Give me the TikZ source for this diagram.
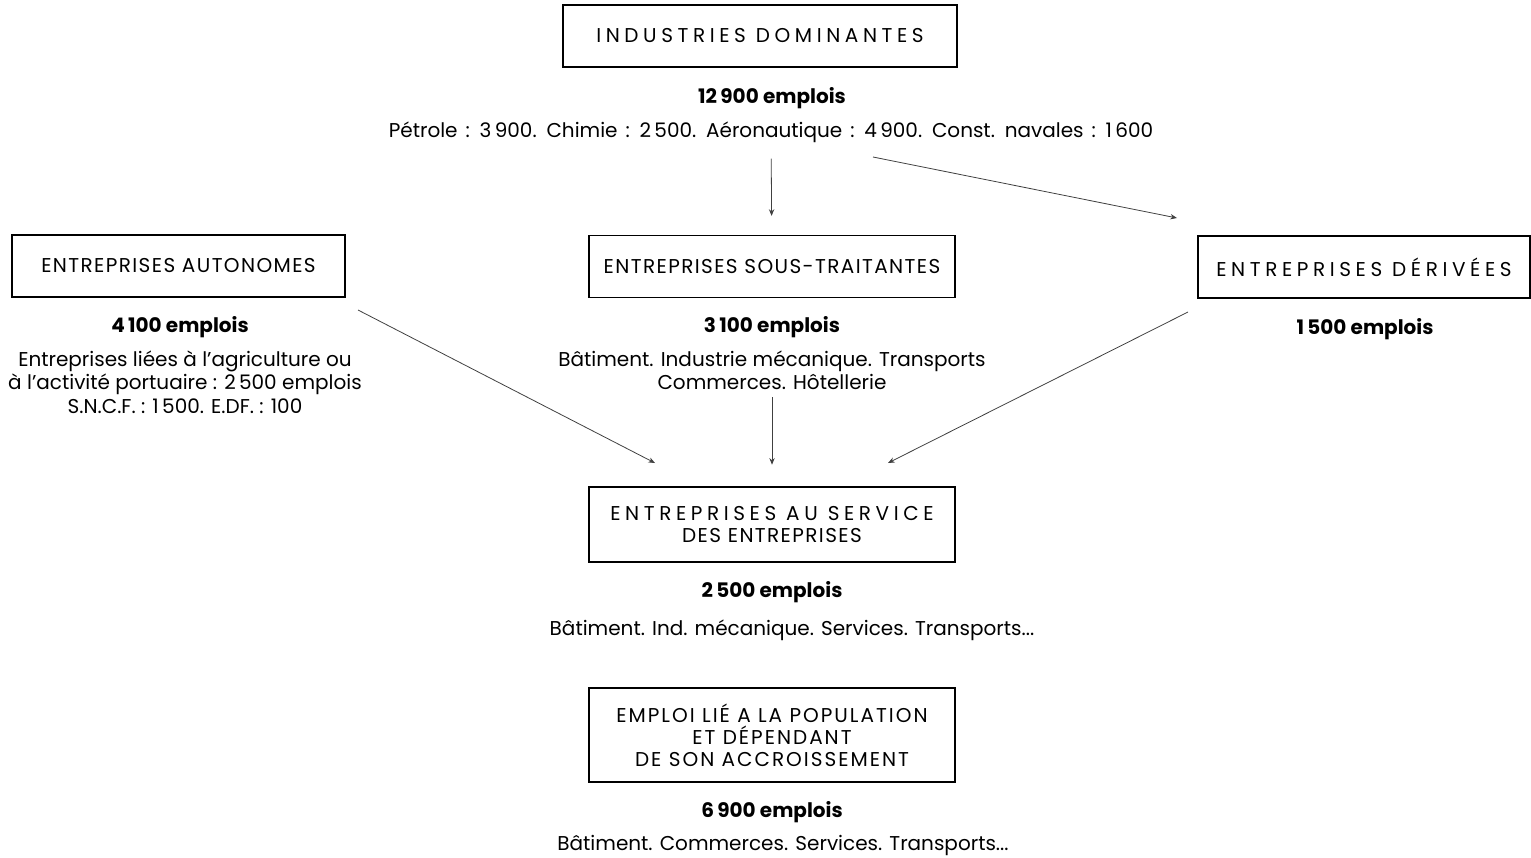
\documentclass[tikz,border=0pt]{standalone}
\usepackage{fontspec}
\setmainfont{Poppins}
\newfontfamily\capnorm{Poppins}[LetterSpace=7]
\newfontfamily\capmoy{Poppins}[LetterSpace=10]
\newfontfamily\espace{Poppins}[LetterSpace=23]
\newfontfamily\mots{Poppins}[WordSpace=1.5]
\usetikzlibrary{arrows.meta}

\begin{document}
\begin{tikzpicture}[x=0.75pt,y=0.75pt,yscale=-1,xscale=1,
  cadre/.style={draw, line width=1.4pt, inner sep=0pt, align=center, minimum height=46.5pt, font=\fontsize{15}{16.5}\selectfont\capnorm},
  cadresp/.style={cadre, font=\fontsize{15}{16.5}\selectfont\espace},
  effectif/.style={inner sep=1pt, font=\fontsize{15}{15}\selectfont\bfseries},
  detail/.style={inner sep=1pt, align=center, font=\fontsize{15}{17.6}\selectfont},
  fleche/.style={-{Stealth[length=5pt,width=4pt]}, line width=0.6pt, draw=black!75}]
\useasboundingbox (0,0) rectangle (1531,857);

% industries dominantes
\node[cadresp, minimum width=295.5pt] (dom) at (760,36) {INDUSTRIES DOMINANTES};
\node[effectif] (eff-dom) at (772,98) {12\,900 emplois};
\node[detail, font=\fontsize{15}{17.6}\selectfont\mots] (det-dom) at (771,132) {Pétrole : 3\,900. Chimie : 2\,500. Aéronautique : 4\,900. Const. navales : 1\,600};

% second rang
\node[cadre, minimum width=250pt] (auto) at (178.5,266) {ENTREPRISES AUTONOMES};
\node[effectif] (eff-auto) at (180,327) {4\,100 emplois};
\node[detail] (det-auto) at (185,382) {Entreprises liées à l'agriculture ou\\à l'activité portuaire : 2\,500 emplois\\S.N.C.F. : 1\,500. E.DF. : 100};

\node[cadre, minimum width=274pt] (sous) at (772,266.5) {ENTREPRISES SOUS-TRAITANTES};
\node[effectif] (eff-sous) at (772,327) {3\,100 emplois};
\node[detail] (det-sous) at (772,370.5) {Bâtiment. Industrie mécanique. Transports\\Commerces. Hôtellerie};

\node[cadresp, minimum width=249pt] (der) at (1364,267) {ENTREPRISES DÉRIVÉES};
\node[effectif] (eff-der) at (1365,329) {1\,500 emplois};

% service
\node[cadre, minimum width=274pt, minimum height=56.25pt, font=\fontsize{15}{17}\selectfont\capnorm] (serv) at (772,524.5) {{\espace ENTREPRISES AU SERVICE}\\DES ENTREPRISES};
\node[effectif] (eff-serv) at (772,592) {2\,500 emplois};
\node[detail] (det-serv) at (792,630) {Bâtiment. Ind. mécanique. Services. Transports...};

% population
\node[cadre, minimum width=274pt, minimum height=70.5pt, font=\fontsize{15}{16.5}\selectfont\capmoy] (pop) at (772,735) {EMPLOI LIÉ A LA POPULATION\\ET DÉPENDANT\\DE SON ACCROISSEMENT};
\node[effectif] (eff-pop) at (772,812) {6\,900 emplois};
\node[detail] (det-pop) at (783,845) {Bâtiment. Commerces. Services. Transports...};

% fleches
\coordinate (dom-out) at (873,157);
\coordinate (der-in) at (1177,218);
\coordinate (auto-out) at (358,310);
\coordinate (serv-in-g) at (655,463);
\coordinate (der-out) at (1188,312);
\coordinate (serv-in-d) at (888,463);

\draw[fleche, shorten <=11pt, shorten >=14pt] (det-dom) -- (sous);
\draw[fleche] (dom-out) -- (der-in);
\draw[fleche] (auto-out) -- (serv-in-g);
\draw[fleche, shorten <=4pt, shorten >=16pt] (det-sous) -- (serv);
\draw[fleche] (der-out) -- (serv-in-d);
\end{tikzpicture}
\end{document}
